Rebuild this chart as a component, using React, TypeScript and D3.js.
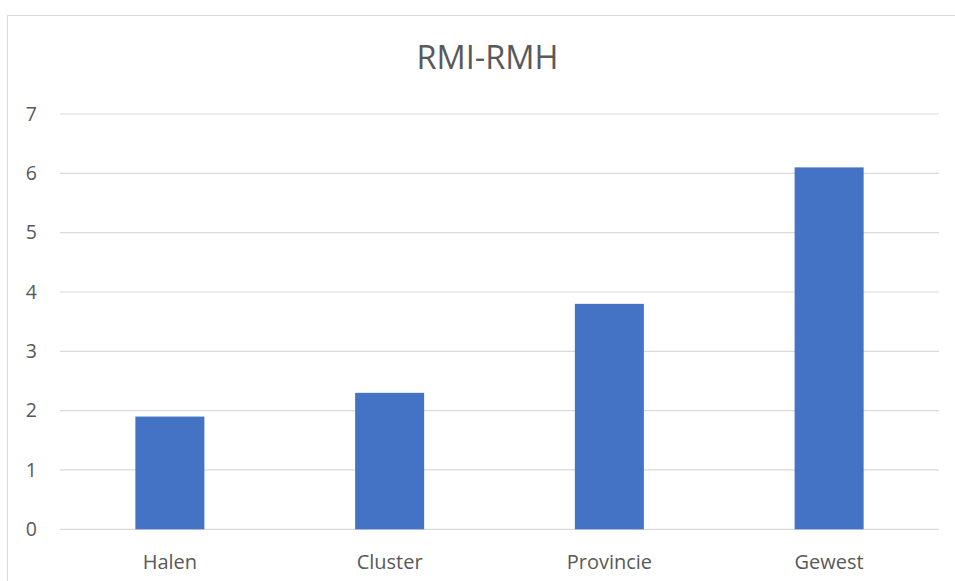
import React, { useEffect, useRef } from 'react';
import * as d3 from 'd3';

const categories = ['Halen', 'Cluster', 'Provincie', 'Gewest'];
const values = [1.9, 2.3, 3.8, 6.1];
const yTicks = [0, 1, 2, 3, 4, 5, 6, 7];
const title = 'RMI-RMH';

const W = 955;
const H = 581;
const plot = { left: 60, right: 939, top: 114, bottom: 529.3 };

export default function App() {
  const svgRef = useRef<SVGSVGElement | null>(null);

  useEffect(() => {
    const svg = d3.select(svgRef.current);
    svg.selectAll('*').remove();

    // chart border (runs off the right and bottom)
    svg.append('rect')
      .attr('x', 7.5).attr('y', 15.5)
      .attr('width', 1000).attr('height', 1000)
      .attr('fill', '#fff')
      .attr('stroke', '#d9d9d9')
      .attr('stroke-width', 1);

    const x = d3.scaleBand<string>()
      .domain(categories)
      .range([plot.left, plot.right])
      .paddingInner(0.686)
      .paddingOuter(0.343);

    const y = d3.scaleLinear().domain([0, 7]).range([plot.bottom, plot.top]);

    // gridlines
    svg.append('g').selectAll('line')
      .data(yTicks)
      .enter().append('line')
      .attr('x1', plot.left).attr('x2', plot.right)
      .attr('y1', d => y(d)).attr('y2', d => y(d))
      .attr('stroke', '#d9d9d9')
      .attr('stroke-width', 1.2);

    // y labels
    svg.append('g').selectAll('text')
      .data(yTicks)
      .enter().append('text')
      .attr('x', 37)
      .attr('y', d => y(d))
      .attr('dy', '0.35em')
      .attr('text-anchor', 'end')
      .attr('fill', '#595959')
      .style('font-family', '"Open Sans", sans-serif')
      .style('font-size', '19.5px')
      .text(d => d);

    // bars
    svg.append('g').selectAll('rect')
      .data(values)
      .enter().append('rect')
      .attr('x', (d, i) => x(categories[i])!)
      .attr('y', d => y(d))
      .attr('width', x.bandwidth())
      .attr('height', d => y(0) - y(d))
      .attr('fill', '#4472c4');

    // category labels
    svg.append('g').selectAll('text')
      .data(categories)
      .enter().append('text')
      .attr('x', d => x(d)! + x.bandwidth() / 2)
      .attr('y', 569)
      .attr('text-anchor', 'middle')
      .attr('fill', '#595959')
      .style('font-family', '"Open Sans", sans-serif')
      .style('font-size', '20px')
      .text(d => d);

    svg.append('text')
      .attr('x', 487.5)
      .attr('y', 69)
      .attr('text-anchor', 'middle')
      .attr('fill', '#595959')
      .style('font-family', '"Open Sans", sans-serif')
      .style('font-size', '32.5px')
      .text(title);
  }, []);

  return (
    <svg
      ref={svgRef}
      width={W}
      height={H}
      style={{ position: 'absolute', left: 0, top: 0, background: '#fff' }}
    />
  );
}
